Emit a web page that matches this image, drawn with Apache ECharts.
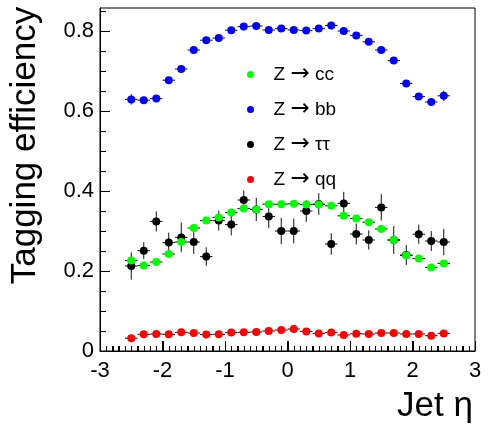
<!DOCTYPE html>
<html>
<head>
<meta charset="utf-8">
<script src="https://cdn.jsdelivr.net/npm/echarts@6/dist/echarts.min.js"></script>
<style>
  html, body { margin: 0; padding: 0; background: #fff; }
  #chart { width: 488px; height: 439px; }
</style>
</head>
<body>
<div id="chart"></div>
<script>
// ---- data ----
const etaCenters = [-2.5, -2.3, -2.1, -1.9, -1.7, -1.5, -1.3, -1.1, -0.9, -0.7, -0.5, -0.3, -0.1,
                     0.1, 0.3, 0.5, 0.7, 0.9, 1.1, 1.3, 1.5, 1.7, 1.9, 2.1, 2.3, 2.5];
const binHalfWidth = 0.1;

const effCC = [0.226, 0.214, 0.2225, 0.2425, 0.2725, 0.3075, 0.326, 0.334, 0.346, 0.356, 0.354, 0.367, 0.367,
               0.368, 0.366, 0.366, 0.363, 0.338, 0.331, 0.322, 0.305, 0.2775, 0.239, 0.231, 0.209, 0.219];
const errCC = [0.008, 0.006, 0.006, 0.006, 0.006, 0.006, 0.006, 0.006, 0.006, 0.006, 0.006, 0.006, 0.006,
               0.006, 0.006, 0.006, 0.006, 0.006, 0.006, 0.006, 0.006, 0.006, 0.006, 0.006, 0.006, 0.008];

const effBB = [0.629, 0.627, 0.631, 0.677, 0.705, 0.7525, 0.777, 0.7825, 0.802, 0.811, 0.8125, 0.8025, 0.806,
               0.8025, 0.801, 0.806, 0.814, 0.800, 0.789, 0.773, 0.7525, 0.726, 0.669, 0.636, 0.6225, 0.638];
const errBB = [0.013, 0.008, 0.008, 0.008, 0.008, 0.008, 0.008, 0.008, 0.008, 0.008, 0.008, 0.008, 0.008,
               0.008, 0.008, 0.008, 0.008, 0.008, 0.008, 0.008, 0.008, 0.008, 0.008, 0.008, 0.008, 0.013];

const effTauTau = [0.2125, 0.2508, 0.324, 0.271, 0.284, 0.2725, 0.236, 0.326, 0.316, 0.3775, 0.354, 0.336, 0.300,
                   0.300, 0.350, 0.3675, 0.2675, 0.369, 0.2925, 0.2775, 0.359, 0.2775, 0.240, 0.292, 0.275, 0.2725];
const errTauTau = [0.034, 0.021, 0.025, 0.025, 0.037, 0.030, 0.023, 0.025, 0.027, 0.024, 0.029, 0.029, 0.033,
                   0.031, 0.027, 0.027, 0.027, 0.029, 0.026, 0.024, 0.033, 0.035, 0.025, 0.024, 0.025, 0.033];

const effQQ = [0.032, 0.0417, 0.0425, 0.0417, 0.0467, 0.045, 0.041, 0.0417, 0.046, 0.0467, 0.0475, 0.050, 0.0525,
               0.055, 0.049, 0.044, 0.046, 0.040, 0.043, 0.0425, 0.045, 0.045, 0.0425, 0.0425, 0.0383, 0.044];
const errQQ = [0.003, 0.003, 0.003, 0.003, 0.003, 0.003, 0.003, 0.003, 0.003, 0.003, 0.003, 0.003, 0.003,
               0.003, 0.003, 0.003, 0.003, 0.003, 0.003, 0.003, 0.003, 0.003, 0.003, 0.003, 0.003, 0.003];

const seriesNames = ['Z \u2192 cc', 'Z \u2192 bb', 'Z \u2192 \u03c4\u03c4', 'Z \u2192 qq'];
const seriesColors = ['#00ff00', '#0000ff', '#000000', '#ff0000'];

const xTickValues = [-3, -2, -1, 0, 1, 2, 3];
const xTickLabels = ['-3', '-2', '-1', '0', '1', '2', '3'];
const yTickValues = [0, 0.2, 0.4, 0.6, 0.8];
const yTickLabels = ['0', '0.2', '0.4', '0.6', '0.8'];
const xMinorPerMajor = 10;
const yMinorPerMajor = 4;

const xTitle = 'Jet \u03b7';
const yTitle = 'Tagging efficiency';

// ---- build ----
const FONT = '"Liberation Sans", Arial, Helvetica, sans-serif';
const X_MIN = -3, X_MAX = 3, Y_MIN = 0, Y_MAX = 0.8575;

function pts(vals) { return etaCenters.map((x, i) => [x, vals[i]]); }
function errPts(vals, errs) { return etaCenters.map((x, i) => [x, vals[i], errs[i]]); }

// tick marks: [value, axis(0=x,1=y), major(1/0)]
const tickData = [];
xTickValues.forEach(v => tickData.push([v, 0, 1]));
for (let k = 0; k < xTickValues.length - 1; k++) {
  const a = xTickValues[k], step = (xTickValues[k + 1] - a) / xMinorPerMajor;
  for (let j = 1; j < xMinorPerMajor; j++) tickData.push([a + j * step, 0, 0]);
}
yTickValues.forEach(v => tickData.push([v, 1, 1]));
(function () {
  const major = yTickValues[1] - yTickValues[0];
  const step = major / yMinorPerMajor;
  for (let n = 1; yTickValues[0] + n * step < Y_MAX; n++) {
    if (n % yMinorPerMajor !== 0) tickData.push([yTickValues[0] + n * step, 1, 0]);
  }
})();

function errorSeries(name, vals, errs) {
  return {
    type: 'custom',
    name: name,
    data: errPts(vals, errs),
    encode: { x: 0, y: 1 },
    z: 1,
    renderItem: function (params, api) {
      const x = api.value(0), y = api.value(1), e = api.value(2);
      const c = api.coord([x, y]);
      const l = api.coord([x - binHalfWidth, y]);
      const r = api.coord([x + binHalfWidth, y]);
      const t = api.coord([x, y + e]);
      const b = api.coord([x, y - e]);
      const st = { stroke: '#111', lineWidth: 1 };
      return {
        type: 'group',
        children: [
          { type: 'line', shape: { x1: l[0], y1: c[1], x2: r[0], y2: c[1] }, style: st },
          { type: 'line', shape: { x1: c[0], y1: t[1], x2: c[0], y2: b[1] }, style: st }
        ]
      };
    }
  };
}

function pointSeries(idx, vals) {
  return {
    type: 'scatter',
    name: seriesNames[idx],
    data: pts(vals),
    symbol: 'circle',
    symbolSize: 8,
    z: 2,
    itemStyle: { color: seriesColors[idx], opacity: 1 }
  };
}

const chart = echarts.init(document.getElementById('chart'), null, { renderer: 'canvas' });

chart.setOption({
  animation: false,
  backgroundColor: '#ffffff',
  textStyle: { fontFamily: FONT },
  grid: {
    left: 85, right: 13, top: 8, bottom: 88,
    show: true, borderColor: '#000', borderWidth: 1
  },
  legend: {
    data: seriesNames.map((n, i) => ({ name: n, icon: 'circle', itemStyle: { color: seriesColors[i] } })),
    orient: 'vertical',
    left: 242,
    top: 58,
    itemWidth: 36,
    itemHeight: 7,
    itemGap: 12,
    selectedMode: false,
    formatter: function (name) {
      const parts = name.split('\u2192');
      return parts[0] + '{arr|\u2192}' + parts[1];
    },
    textStyle: {
      fontSize: 19, lineHeight: 20, color: '#000', fontFamily: FONT,
      rich: { arr: { fontFamily: '"DejaVu Sans", sans-serif', fontSize: 23, lineHeight: 20, color: '#000' } }
    }
  },
  xAxis: {
    type: 'value',
    min: X_MIN, max: X_MAX, interval: 1,
    name: xTitle,
    nameLocation: 'end',
    nameGap: -2,
    nameTextStyle: { fontSize: 35, color: '#000', fontFamily: FONT, align: 'right', verticalAlign: 'top', padding: [38, 0, 0, 0] },
    axisLine: { show: true, onZero: false, lineStyle: { color: '#000', width: 1 } },
    axisTick: { show: true, inside: true, length: 10, lineStyle: { color: '#000', width: 1 } },
    minorTick: { show: true, splitNumber: 10, length: 5, lineStyle: { color: '#000', width: 1 } },
    axisLabel: {
      fontSize: 22, color: '#000', margin: 9, fontFamily: FONT,
      formatter: function (v) { const i = xTickValues.findIndex(t => Math.abs(t - v) < 1e-6); return i >= 0 ? xTickLabels[i] : ''; }
    },
    splitLine: { show: false },
    minorSplitLine: { show: false }
  },
  yAxis: {
    type: 'value',
    min: Y_MIN, max: Y_MAX, interval: 0.2,
    name: yTitle,
    nameLocation: 'middle',
    nameRotate: 90,
    nameGap: 57,
    nameTextStyle: { fontSize: 35, color: '#000', fontFamily: FONT, padding: [0, 0, 0, 68] },
    axisLine: { show: true, onZero: false, lineStyle: { color: '#000', width: 1 } },
    axisTick: { show: true, inside: true, length: 10, lineStyle: { color: '#000', width: 1 } },
    axisLabel: {
      fontSize: 22, color: '#000', margin: 6, fontFamily: FONT, showMaxLabel: false,
      formatter: function (v) { const i = yTickValues.findIndex(t => Math.abs(t - v) < 1e-6); return i >= 0 ? yTickLabels[i] : ''; }
    },
    splitLine: { show: false }
  },
  series: [
    errorSeries('err-tautau', effTauTau, errTauTau),
    errorSeries('err-qq', effQQ, errQQ),
    errorSeries('err-cc', effCC, errCC),
    errorSeries('err-bb', effBB, errBB),
    pointSeries(2, effTauTau),
    pointSeries(3, effQQ),
    pointSeries(0, effCC),
    pointSeries(1, effBB)
  ]
});

// inner tick marks, positioned through the chart's own axis scales, painted immediately
(function drawTicks() {
  const zr = chart.getZr();
  const group = new echarts.graphic.Group();
  tickData.forEach(function (t) {
    const v = t[0], ax = t[1], major = t[2];
    let shape;
    if (ax === 0) {
      const p = chart.convertToPixel({ xAxisIndex: 0, yAxisIndex: 0 }, [v, Y_MIN]);
      const x = Math.round(p[0]) + 0.5, y = Math.round(p[1]);
      shape = { x1: x, y1: y, x2: x, y2: y - (major ? 10 : 5) };
    } else {
      const p = chart.convertToPixel({ xAxisIndex: 0, yAxisIndex: 0 }, [X_MIN, v]);
      const x = Math.round(p[0]), y = Math.round(p[1]) + 0.5;
      shape = { x1: x, y1: y, x2: x + (major ? 10 : 6), y2: y };
    }
    group.add(new echarts.graphic.Line({ shape: shape, style: { stroke: '#000', lineWidth: 1 }, z: 100, silent: true }));
  });
  zr.add(group);
  if (zr.refreshImmediately) zr.refreshImmediately();
  else if (zr.flush) zr.flush();
})();
</script>
</body>
</html>
